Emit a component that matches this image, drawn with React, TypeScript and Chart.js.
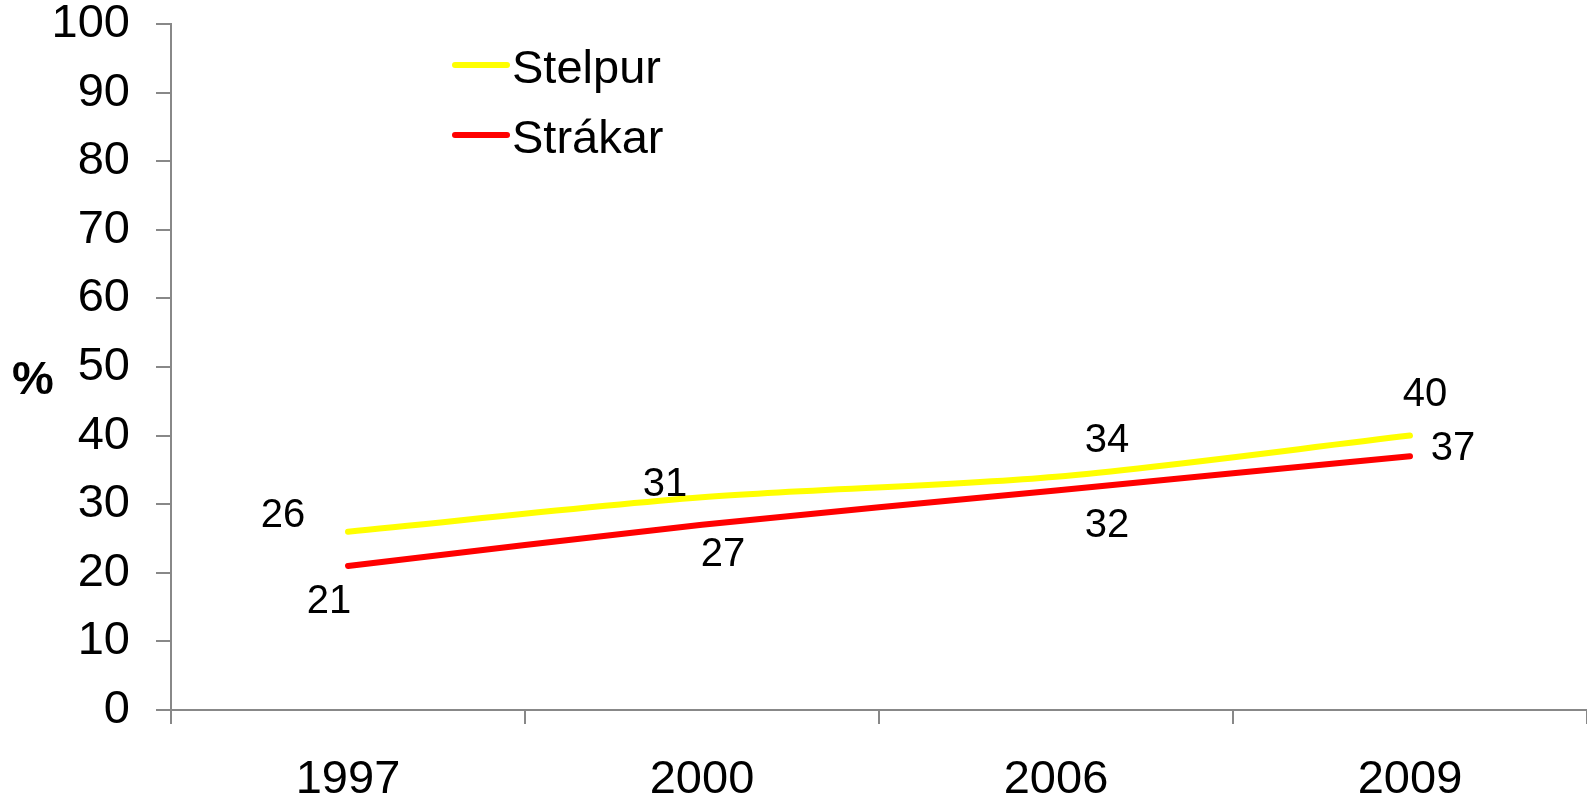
import React, { useEffect, useRef } from "react";
import { Chart, registerables } from "chart.js";

Chart.register(...registerables);

const categories = ["1997", "2000", "2006", "2009"];
const stelpur = [26, 31, 34, 40];
const strakar = [21, 27, 32, 37];
const seriesNames = ["Stelpur", "Strákar"];
const seriesColors = ["#FFFF00", "#FF0000"];

// label offsets (px) from each point to the centre of its value label
const stelpurLabelDx = [-65, -37, 51, 15];
const stelpurLabelDy = [-19, -16, -39, -44];
const strakarLabelDx = [-19, 21, 51, 43];
const strakarLabelDy = [33, 27, 32, -11];

const FONT = "'Liberation Sans', Arial, sans-serif";

const valueLabelPlugin = {
  id: "valueLabels",
  afterDatasetsDraw(chart: any) {
    const ctx = chart.ctx;
    const offsets = [
      [stelpurLabelDx, stelpurLabelDy],
      [strakarLabelDx, strakarLabelDy],
    ];
    ctx.save();
    ctx.font = `40px ${FONT}`;
    ctx.fillStyle = "#000";
    ctx.textAlign = "center";
    ctx.textBaseline = "alphabetic";
    chart.data.datasets.forEach((ds: any, di: number) => {
      const meta = chart.getDatasetMeta(di);
      meta.data.forEach((pt: any, i: number) => {
        const x = pt.x + offsets[di][0][i];
        const y = pt.y + offsets[di][1][i] + 40 * 0.358;
        ctx.fillText(String(ds.data[i]), x, y);
      });
    });
    ctx.restore();
  },
};

const legendPlugin = {
  id: "insideLegend",
  afterDatasetsDraw(chart: any) {
    const ctx = chart.ctx;
    const { left, top } = chart.chartArea;
    ctx.save();
    chart.data.datasets.forEach((ds: any, di: number) => {
      const cy = top + 41 + di * 70;
      ctx.strokeStyle = ds.borderColor;
      ctx.lineWidth = 6;
      ctx.lineCap = "round";
      ctx.beginPath();
      ctx.moveTo(left + 284, cy);
      ctx.lineTo(left + 336, cy);
      ctx.stroke();
      ctx.font = `47px ${FONT}`;
      ctx.fillStyle = "#000";
      ctx.textAlign = "left";
      ctx.textBaseline = "alphabetic";
      ctx.fillText(ds.label, left + 341, cy + 18);
    });
    ctx.restore();
  },
};

const percentPlugin = {
  id: "percentTitle",
  afterDraw(chart: any) {
    const ctx = chart.ctx;
    const { top, bottom } = chart.chartArea;
    ctx.save();
    ctx.font = `bold 47px ${FONT}`;
    ctx.fillStyle = "#000";
    ctx.textAlign = "center";
    ctx.textBaseline = "alphabetic";
    ctx.fillText("%", 33, (top + bottom) / 2 + 27);
    ctx.restore();
  },
};

export default function App() {
  const ref = useRef<HTMLCanvasElement>(null);
  useEffect(() => {
    if (!ref.current) return;
    const axisColor = "#888888";
    const chart = new Chart(ref.current, {
      type: "line",
      data: {
        labels: categories,
        datasets: [
          {
            label: seriesNames[0],
            data: stelpur,
            borderColor: seriesColors[0],
            backgroundColor: seriesColors[0],
            borderWidth: 6,
            pointRadius: 0,
            tension: 0.3,
            borderCapStyle: "round",
            borderJoinStyle: "round",
          },
          {
            label: seriesNames[1],
            data: strakar,
            borderColor: seriesColors[1],
            backgroundColor: seriesColors[1],
            borderWidth: 6,
            pointRadius: 0,
            tension: 0.3,
            borderCapStyle: "round",
            borderJoinStyle: "round",
          },
        ],
      },
      options: {
        responsive: false,
        animation: false,
        layout: { padding: { top: 0, left: 0, right: 0, bottom: 0 } },
        plugins: {
          legend: { display: false },
          tooltip: { enabled: false },
        },
        scales: {
          x: {
            offset: true,
            grid: {
              offset: true,
              drawOnChartArea: false,
              drawTicks: true,
              tickLength: 14,
              color: axisColor,
              lineWidth: 2,
            },
            border: { color: axisColor, width: 2 },
            ticks: {
              color: "#000",
              font: { family: FONT, size: 47, lineHeight: 1.2 },
              padding: 28,
              maxRotation: 0,
            },
            afterFit(scale: any) {
              scale.height = 92;
              scale.paddingLeft = 0;
              scale.paddingRight = 0;
            },
          },
          y: {
            min: 0,
            max: 100,
            grid: {
              drawOnChartArea: false,
              drawTicks: true,
              tickLength: 15,
              color: axisColor,
              lineWidth: 2,
            },
            border: { color: axisColor, width: 2 },
            ticks: {
              stepSize: 10,
              color: "#000",
              font: { family: FONT, size: 47, lineHeight: 1.2 },
              padding: 26,
            },
            afterFit(scale: any) {
              scale.width = 171;
              scale.paddingTop = 24;
              scale.paddingBottom = 0;
            },
          },
        },
      },
      plugins: [valueLabelPlugin, legendPlugin, percentPlugin],
    } as any);
    return () => chart.destroy();
  }, []);
  return (
    <div style={{ position: "fixed", left: 0, top: 0, width: 1587, height: 802, background: "#fff" }}>
      <canvas ref={ref} width={1587} height={802} style={{ display: "block" }} />
    </div>
  );
}
